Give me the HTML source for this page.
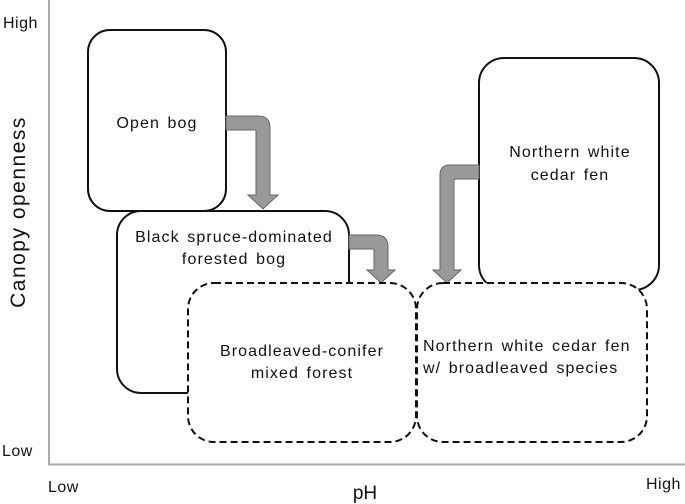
<!DOCTYPE html>
<html><head><style>html,body{margin:0;padding:0;background:#fff}svg{display:block}.t{font-size:16px;letter-spacing:1.1px;word-spacing:2px}</style></head>
<body>
<svg width="685" height="504" viewBox="0 0 685 504" xmlns="http://www.w3.org/2000/svg" font-family="Liberation Sans, Arial, sans-serif" fill="#111">
<line x1="49" y1="0" x2="49" y2="465" stroke="#aaa" stroke-width="2"/>
<line x1="48" y1="464.5" x2="685" y2="464.5" stroke="#aaa" stroke-width="2"/>
<text x="3" y="28" font-size="16" letter-spacing="0.5">High</text>
<text x="2" y="456" font-size="16" letter-spacing="0.5">Low</text>
<text x="48" y="492" font-size="16" letter-spacing="0.5">Low</text>
<text x="646" y="489" font-size="16" letter-spacing="0.5">High</text>
<text x="365" y="499" font-size="19" text-anchor="middle">pH</text>
<text transform="translate(25,212) rotate(-90)" font-size="21" letter-spacing="1.5" text-anchor="middle">Canopy openness</text>

<rect x="88" y="30" width="138" height="181" rx="22" fill="#fff" stroke="#111" stroke-width="2"/>
<text class="t" x="157" y="128" text-anchor="middle">Open bog</text>
<rect x="117" y="211" width="232" height="182" rx="24" fill="#fff" stroke="#111" stroke-width="2"/>
<text class="t" x="234" y="242" text-anchor="middle">Black spruce-dominated</text>
<text class="t" x="234" y="264" text-anchor="middle">forested bog</text>
<rect x="479" y="58" width="180" height="232" rx="25" fill="#fff" stroke="#111" stroke-width="2"/>
<text class="t" x="570" y="157" text-anchor="middle">Northern white</text>
<text class="t" x="570" y="180" text-anchor="middle">cedar fen</text>

<g fill="#999" stroke="#666" stroke-width="1">
<path d="M226 116 H258 Q270 116 270 128 V195 H278 L263 209 L248 195 H256 V131 Q256 130 255 130 H226 Z"/>
<path d="M349 235 H376 Q388 235 388 247 V270 H395 L381 283 L367 270 H374 V250 Q374 249 373 249 H349 Z"/>
<path d="M479 165 H450 Q440 165 440 175 V270 H433 L447 283 L461 270 H454 V181 Q454 179 456 179 H479 Z"/>
</g>

<rect x="188" y="283" width="228" height="159" rx="26" fill="#fff" stroke="#111" stroke-width="2" stroke-dasharray="7,4"/>
<text class="t" x="302" y="356" text-anchor="middle">Broadleaved-conifer</text>
<text class="t" x="302" y="378" text-anchor="middle">mixed forest</text>
<rect x="417" y="283" width="230" height="159" rx="26" fill="#fff" stroke="#111" stroke-width="2" stroke-dasharray="7,4"/>
<text class="t" x="423" y="351">Northern white cedar fen</text>
<text class="t" x="423" y="373">w/ broadleaved species</text>
</svg>
</body></html>
